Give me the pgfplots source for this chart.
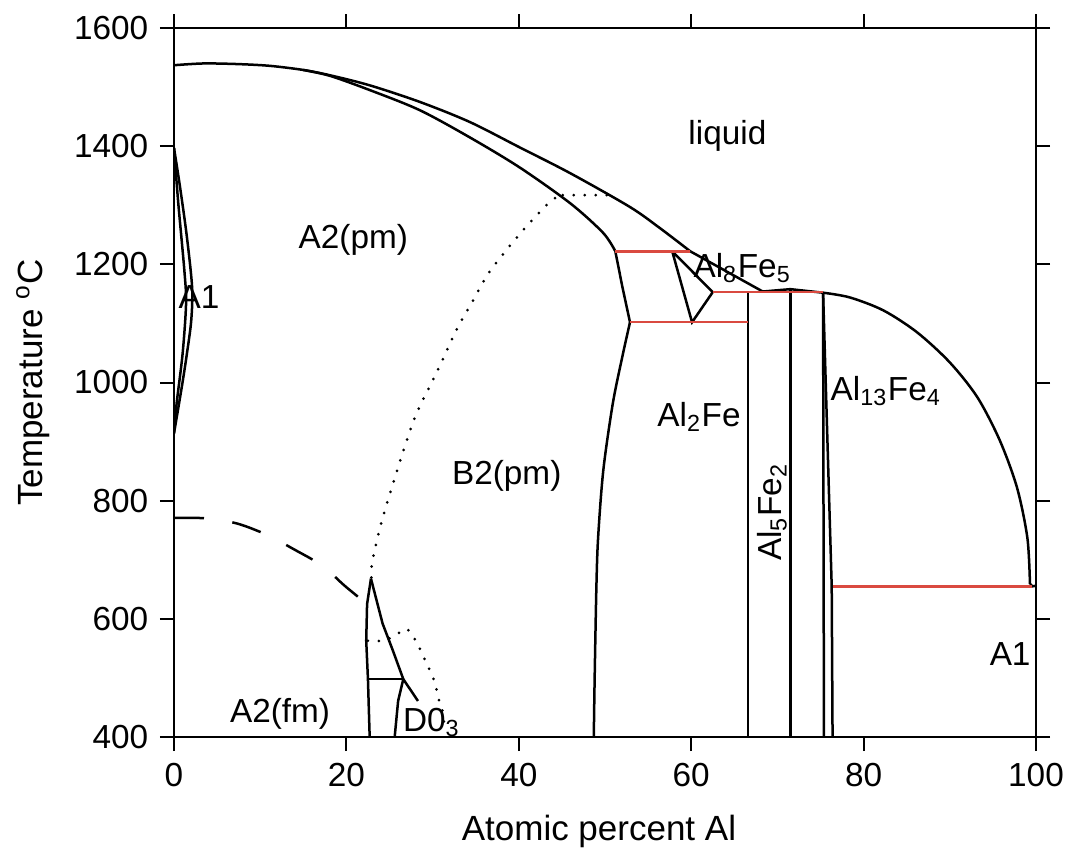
\documentclass[border=0pt]{standalone}
\usepackage{fontspec}
\setmainfont{Liberation Sans}
\usepackage{pgfplots}
\pgfplotsset{compat=1.18}
\definecolor{pdred}{RGB}{218,74,64}
\pgfplotsset{
  phase/.style={black,line width=0.75pt,mark=none},
  tie/.style={pdred,line width=0.75pt,mark=none},
  dotl/.style={black,line width=0.9pt,mark=none,dash pattern=on 0pt off 3.3pt,line cap=round},
  dashl/.style={black,line width=0.75pt,mark=none,dash pattern=on 9pt off 8.6pt},
}
\begin{document}
\begin{tikzpicture}
\begin{axis}[
  scale only axis, width=258.6pt, height=212.7pt,
  xmin=0, xmax=100, ymin=400, ymax=1600,
  xtick={0,20,...,100}, ytick={400,600,...,1600},
  tick align=outside, major tick length=4.2pt,
  every tick/.style={black,line width=0.6pt},
  axis line style={line width=0.7pt},
  tick label style={font=\fontsize{10}{12}\selectfont},
  /pgf/number format/assume math mode=true,
  /pgf/number format/1000 sep={},
  label style={font=\fontsize{10.5}{12.5}\selectfont},
  xlabel={Atomic percent Al},
  ylabel={Temperature \textsuperscript{o}C},
  xlabel style={at={(axis description cs:0.493,-0.1453)},anchor=base},
  ylabel style={at={(axis description cs:-0.1636,0.5)},anchor=center},
  every node/.append style={font=\fontsize{9}{11}\selectfont},
]
% liquidus Fe side
\addplot[phase,smooth] coordinates {(0,1537) (3.4,1540) (7.3,1539) (11.1,1536) (15.0,1529) (18.1,1520) (22.7,1503) (28.5,1475) (34.3,1441) (40.1,1398) (46.0,1354) (52.9,1297) (56.4,1261) (59.9,1222)};
\addplot[phase] coordinates {(59.9,1222) (68.3,1154) (71.5,1158) (75.3,1152)};
% liquidus Al side
\addplot[phase,smooth] coordinates {(75.3,1152) (78.4,1144) (82.3,1122) (86.2,1085) (90.0,1034) (93.2,975) (95.8,902) (97.8,822) (99.0,737) (99.3,659)};
\addplot[phase] coordinates {(99.3,659) (99.6,655) (100,656)};
% solidus
\addplot[phase,smooth] coordinates {(15.0,1529) (18.1,1519) (22.7,1495) (28.5,1461) (34.3,1415) (40.1,1364) (46.0,1303) (49.8,1253) (51.2,1222)};
% B2 boundary
\addplot[phase] coordinates {(51.2,1222) (52.0,1163) (52.9,1102)};
\addplot[phase,smooth] coordinates {(52.9,1102) (52.0,1043) (50.9,964) (49.8,851) (49.2,737) (49.0,653) (48.8,500) (48.7,400)};
% gamma loop
\addplot[phase,smooth] coordinates {(0,1397) (0.7,1331) (1.5,1246) (2.1,1161) (2.0,1105) (1.5,1049) (0.9,992) (0,914)};
\addplot[phase,smooth] coordinates {(0,1397) (0.5,1303) (1.2,1190) (1.4,1134) (1.0,1049) (0.3,964) (0,914)};
% Al8Fe5
\addplot[phase] coordinates {(57.8,1222) (60.1,1102) (62.5,1153) (57.8,1222)};
% intermetallic lines
\addplot[phase] coordinates {(66.6,400) (66.6,1153)};
\addplot[phase] coordinates {(71.5,400) (71.5,1158)};
\addplot[phase] coordinates {(75.3,1152) (75.4,400)};
\addplot[phase] coordinates {(75.3,1152) (76.3,655) (76.4,400)};
% red invariant lines
\addplot[tie] coordinates {(51.2,1222) (59.9,1222)};
\addplot[tie] coordinates {(52.9,1102) (66.6,1102)};
\addplot[tie] coordinates {(62.5,1153) (75.3,1153)};
\addplot[tie] coordinates {(76.4,655) (99.5,655)};
% A2/B2 order-disorder (dotted)
\addplot[dotl] coordinates {(50.2,1317) (44.8,1317)};
\addplot[dotl,smooth] coordinates {(44.2,1312) (43.4,1303) (41.0,1266) (38.6,1225) (36.4,1183) (34.7,1139) (32.9,1093) (31.4,1046) (29.9,1000) (28.3,953) (27.0,902) (24.8,800) (23.9,754) (23.0,697) (22.9,668)};
% B2/D03 (dotted)
\addplot[dotl,smooth] coordinates {(22.5,563) (24.2,563) (25.6,571) (27.0,583) (28.2,559) (28.9,537) (29.7,512) (30.3,490) (30.7,464) (31.2,441) (31.4,410)};
% Curie line (dashed)
\addplot[dashl,smooth] coordinates {(0,771) (3.9,770) (7.4,761) (10.8,742) (14.0,717) (17.2,690) (19.8,656) (22.4,625)};
% D03 region
\addplot[phase] coordinates {(22.85,668) (22.4,625) (22.3,563) (22.5,498) (22.7,400)};
\addplot[phase] coordinates {(22.85,668) (24.2,592) (25.4,546) (26.6,498)};
\addplot[phase] coordinates {(22.5,498) (26.6,498)};
\addplot[phase] coordinates {(26.6,498) (26.0,461) (25.6,400)};
\addplot[phase] coordinates {(26.6,498) (28.3,461)};
% labels
\node at (axis cs:64.2,1418) {liquid};
\node at (axis cs:20.8,1241) {A2(pm)};
\node at (axis cs:2.9,1144) {A1};
\node[anchor=base west,inner sep=0pt] at (axis cs:60.2,1178) {Al\textsubscript{8}Fe\textsubscript{5}};
\node at (axis cs:60.9,941) {Al\textsubscript{2}Fe};
\node[rotate=90] at (axis cs:69.4,781) {Al\textsubscript{5}Fe\textsubscript{2}};
\node[anchor=base west,inner sep=0pt] at (axis cs:76.1,969) {Al\textsubscript{13}Fe\textsubscript{4}};
\node at (axis cs:38.6,842) {B2(pm)};
\node at (axis cs:12.3,439) {A2(fm)};
\node[anchor=base west,inner sep=0pt] at (axis cs:26.5,410) {D0\textsubscript{3}};
\node at (axis cs:97,541) {A1};
\end{axis}
\pgfresetboundingbox
\path (current axis.south west) ++(-52.2pt,-34.2pt) rectangle ++(321.3pt,255.3pt);
\end{tikzpicture}
\end{document}
